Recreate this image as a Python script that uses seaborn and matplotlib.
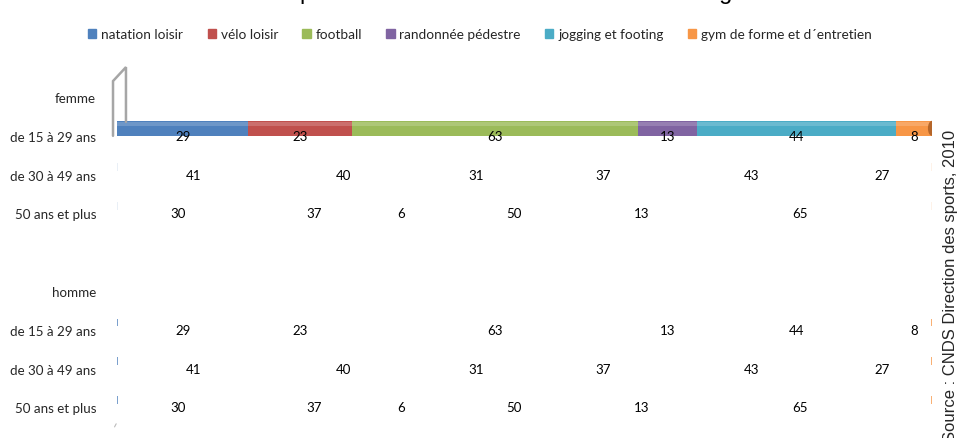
import numpy as np
import pandas as pd
import seaborn as sns
import matplotlib.pyplot as plt
from matplotlib.patches import Patch, Ellipse

# data (same figures shown for both sexes)
sports = ["natation loisir", "vélo loisir", "football", "randonnée pédestre",
          "jogging et footing", "gym de forme et d´entretien"]
colors = ["#4F81BD", "#C0504D", "#9BBB59", "#8064A2", "#4BACC6", "#F79646"]
sexes = ["femme", "homme"]
ages = ["de 15 à 29 ans", "de 30 à 49 ans", "50 ans et plus"]

natation = [29, 41, 30]
velo = [23, 40, 37]
football = [63, 31, 6]
randonnee = [13, 37, 50]
jogging = [44, 43, 13]
gym = [8, 27, 65]

slots = ["femme"] + ages + [""] + ["homme"] + ages
title = "Les activités préférées selon le sexe et la tranche d'âge"
source = "Source : CNDS Direction des sports, 2010"


def build_data():
    series = [natation, velo, football, randonnee, jogging, gym]
    rows = []
    for s, sex in enumerate(sexes):
        for a, age in enumerate(ages):
            for k, sport in enumerate(sports):
                rows.append({"sex": sex, "age": age, "slot": s * 5 + a + 1,
                             "sport": sport, "value": series[k][a]})
    data = pd.DataFrame(rows)
    data["share"] = data["value"] / data.groupby(["sex", "age"])["value"].transform("sum") * 100
    data["right"] = data.groupby(["sex", "age"])["share"].cumsum()
    data["left"] = data["right"] - data["share"]
    data["center"] = data["left"] + data["share"] / 2
    return data


def plot_data(data, filename):
    sns.set_theme(style="white")
    plt.rcParams["font.family"] = ["Lato", "DejaVu Sans"]
    fig = plt.figure(figsize=(9.57, 4.39), dpi=100)
    ax = fig.add_axes([117 / 957, 1 - 427.9 / 439, 815 / 957, (427.9 - 78.6) / 439])

    # only the first bar of the original is rendered, others collapse to slivers
    bar_pos = 0.807
    bar_h = 0.387
    first = data[(data.sex == "femme") & (data.age == ages[0])]
    for k in range(len(sports) - 1, -1, -1):
        row = first.iloc[k]
        sns.barplot(x=[row["right"]], y=[bar_pos], orient="h", native_scale=True,
                    width=bar_h, color=colors[k], saturation=1, errorbar=None,
                    linewidth=0, ax=ax)
    # cylinder highlight and end cap
    ax.barh(bar_pos - bar_h * 0.3, first["right"].max(), height=bar_h * 0.25,
            color="white", alpha=0.18, linewidth=0)
    ax.add_patch(Ellipse((first["right"].max(), bar_pos), 1.0, bar_h,
                         color="#B5662A", linewidth=0))

    others = data[~((data.sex == "femme") & (data.age == ages[0]))]
    for (sex, age), grp in others.groupby(["sex", "age"]):
        slot = grp["slot"].iloc[0]
        alpha = 0.12 if sex == "femme" else 0.75
        ax.barh(slot - 0.19, 0.22, height=0.2, left=-0.11, color=colors[0],
                alpha=alpha, linewidth=0)
        ax.barh(slot - 0.19, 0.22, height=0.2, left=99.9, color=colors[5],
                alpha=alpha, linewidth=0)

    for _, row in data.iterrows():
        ax.text(row["center"], row["slot"], str(row["value"]), ha="center",
                va="center", fontsize=9.5, color="black")

    # 3d wall edge
    wall = dict(color="#A6A6A6", linewidth=1.8, clip_on=False, solid_joinstyle="miter")
    ax.plot([-0.49, -0.49, 1.1, 1.1], [1.0, -0.41, -0.77, 0.64], **wall)
    ax.plot([-0.3, -0.1], [8.5, 8.42], color="#BBBBBB", linewidth=0.8, clip_on=False)

    ax.set_xlim(0, 100)
    ax.set_ylim(8.5, -0.5)
    ax.set_yticks(range(len(slots)))
    ax.set_yticklabels(slots, fontsize=9.6)
    ax.tick_params(axis="y", length=0, pad=15)
    ax.set_xticks([])
    ax.set_xlabel("")
    ax.set_ylabel("")
    sns.despine(ax=ax, left=True, bottom=True)

    handles = [Patch(color=c, label=s) for c, s in zip(colors, sports)]
    fig.legend(handles=handles, loc="center", bbox_to_anchor=(480 / 957, 1 - 35 / 439),
               ncol=6, frameon=False, fontsize=9.8, handlelength=0.6, handleheight=0.6,
               handletextpad=0.35, columnspacing=1.8)

    fig.text(454 / 957, 1.0 + 1 / 439, title, ha="center", va="baseline",
             fontsize=17, family="Liberation Sans", color="#000000")
    fig.text(951 / 957, 1 - 130 / 439, source, rotation=90, rotation_mode="anchor",
             ha="right", va="center", fontsize=12, family="Liberation Sans")

    plt.savefig(filename, dpi=100)
    print("Figure saved.")


def main():
    data = build_data()
    plot_data(data, "out.png")


main()
